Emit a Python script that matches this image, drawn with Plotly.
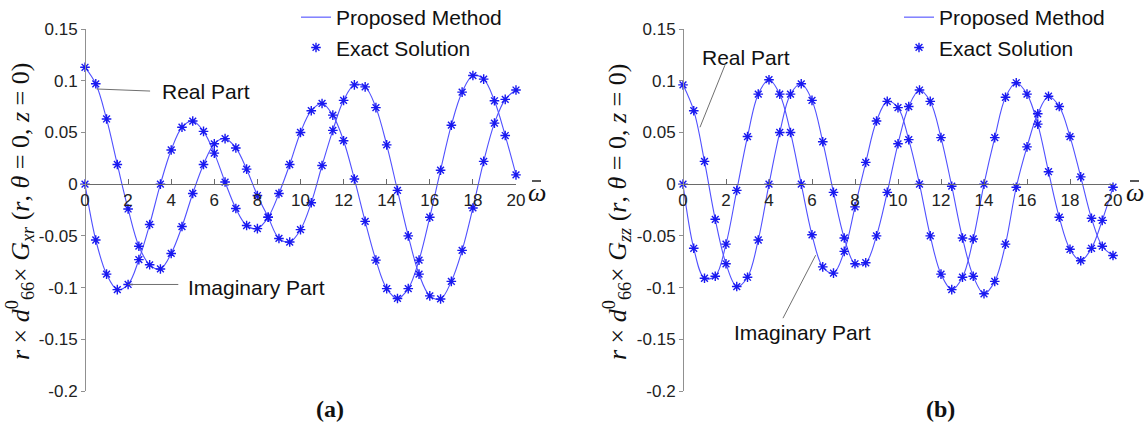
import plotly.graph_objects as go

# ---------------- data ----------------
omega = [i * 0.5 for i in range(41)]  # 0 .. 20 step 0.5

# panel (a)  r*d66*Gxr
a_real = [0.113, 0.097, 0.063, 0.019, -0.024, -0.060, -0.078, -0.082, -0.067, -0.041,
          -0.009, 0.019, 0.039, 0.044, 0.035, 0.0145, -0.011, -0.032, -0.0525, -0.056,
          -0.044, -0.018, 0.018, 0.052, 0.081, 0.096, 0.094, 0.074, 0.038, -0.006,
          -0.050, -0.087, -0.108, -0.111, -0.094, -0.064, -0.023, 0.022, 0.059, 0.082,
          0.091]
a_imag = [0.0, -0.054, -0.087, -0.102, -0.097, -0.073, -0.039, 0.0, 0.033, 0.055,
          0.061, 0.051, 0.030, 0.002, -0.0235, -0.040, -0.043, -0.032, -0.009, 0.019,
          0.050, 0.071, 0.078, 0.0667, 0.042, 0.005, -0.036, -0.0735, -0.101, -0.1105,
          -0.101, -0.0735, -0.032, 0.0135, 0.057, 0.089, 0.105, 0.1015, 0.0806, 0.047,
          0.009]

# panel (b)  r*d66*Gzz
b_real = [0.096, 0.071, 0.022, -0.034, -0.077, -0.099, -0.090, -0.054, 0.0, 0.050,
          0.087, 0.097, 0.081, 0.041, -0.008, -0.052, -0.077, -0.076, -0.050, -0.008,
          0.039, 0.075, 0.091, 0.080, 0.045, -0.002, -0.052, -0.089, -0.106, -0.094,
          -0.058, -0.003, 0.036, 0.068, 0.085, 0.075, 0.046, 0.007, -0.033, -0.060,
          -0.069]
b_imag = [0.0, -0.062, -0.091, -0.089, -0.058, -0.006, 0.046, 0.087, 0.101, 0.087,
          0.050, 0.0, -0.049, -0.080, -0.086, -0.065, -0.022, 0.021, 0.061, 0.080,
          0.074, 0.043, 0.0, -0.050, -0.087, -0.102, -0.090, -0.053, 0.0, 0.045,
          0.084, 0.098, 0.087, 0.058, 0.012, -0.032, -0.063, -0.074, -0.062, -0.035,
          -0.003]

x_ticks = [0, 2, 4, 6, 8, 10, 12, 14, 16, 18, 20]
y_ticks = [-0.2, -0.15, -0.1, -0.05, 0, 0.05, 0.1, 0.15]
y_ticktext = ["-0.2", "-0.15", "-0.1", "-0.05", "0", "0.05", "0.1", "0.15"]

series_names = ["Proposed Method", "Exact Solution"]
panel_labels = ["<b>(a)</b>", "<b>(b)</b>"]
y_titles = [
    "<i>r</i> × <i>d</i><sup>0</sup><sub>66</sub>× <i>G<sub>xr</sub></i> (<i>r</i>, <i>θ</i> = 0, <i>z</i> = 0)",
    "<i>r</i> × <i>d</i><sup>0</sup><sub>66</sub>× <i>G<sub>zz</sub></i> (<i>r</i>, <i>θ</i> = 0, <i>z</i> = 0)",
]

# ---------------- styling / layout ----------------
W, H = 1146, 424
LINE_C = "rgb(80,80,255)"
MARK_C = "rgb(25,25,240)"
AX_C = "#6a6a6a"
SANS = "Liberation Sans, Arial, sans-serif"
SERIF = "Liberation Serif, Times New Roman, serif"

x_domains = [[85 / W, 516 / W], [683 / W, 1113 / W]]
y_domain = [(H - 391) / H, (H - 29) / H]
y_range = [-0.2, 0.15]
x_range = [0, 20]

fig = go.Figure()

panels = [(a_real, a_imag), (b_real, b_imag)]
for p, (re, im) in enumerate(panels):
    xa = "x" if p == 0 else "x2"
    ya = "y" if p == 0 else "y2"
    lg = "legend" if p == 0 else "legend2"
    for k, ys in enumerate([re, im]):
        fig.add_trace(go.Scatter(
            x=omega, y=ys, mode="lines",
            line=dict(color=LINE_C, width=1.1, shape="spline", smoothing=1.0),
            name=series_names[0], showlegend=(k == 0), legend=lg, xaxis=xa, yaxis=ya))
    for k, ys in enumerate([re, im]):
        fig.add_trace(go.Scatter(
            x=omega, y=ys, mode="markers",
            marker=dict(symbol="asterisk-open", size=8, color=MARK_C,
                        line=dict(color=MARK_C, width=1.4)),
            name=series_names[1], showlegend=(k == 0), legend=lg, xaxis=xa, yaxis=ya,
            cliponaxis=False))

zero_pos = y_domain[0] + (0 - y_range[0]) / (y_range[1] - y_range[0]) * (y_domain[1] - y_domain[0])


def xaxis_cfg(dom):
    return dict(domain=dom, range=x_range, anchor="free", position=zero_pos,
                showline=True, linecolor=AX_C, linewidth=1, ticks="inside", ticklen=5,
                tickcolor=AX_C, tickvals=x_ticks, showgrid=False, zeroline=False,
                tickfont=dict(family=SANS, size=17, color="#222"), fixedrange=True)


def yaxis_cfg(xpos):
    return dict(domain=y_domain, range=y_range, anchor="free", position=xpos,
                showline=True, linecolor="#909090", linewidth=1, ticks="outside", ticklen=4,
                tickcolor="#909090", tickvals=y_ticks, ticktext=y_ticktext, showgrid=False,
                zeroline=False, tickfont=dict(family=SANS, size=17, color="#222"),
                fixedrange=True)


legend_common = dict(font=dict(family=SANS, size=21, color="#111"), bgcolor="rgba(0,0,0,0)",
                     xanchor="left", yanchor="top", tracegroupgap=0, itemwidth=30)

fig.update_layout(
    width=W, height=H, margin=dict(l=0, r=0, t=0, b=0, autoexpand=False),
    paper_bgcolor="white", plot_bgcolor="white",
    xaxis=xaxis_cfg(x_domains[0]), yaxis=yaxis_cfg(x_domains[0][0]),
    xaxis2=xaxis_cfg(x_domains[1]), yaxis2=yaxis_cfg(x_domains[1][0]),
    legend=dict(x=296 / W, y=1 + 3 / H, **legend_common),
    legend2=dict(x=899 / W, y=1 + 3 / H, **legend_common),
)

ann = []
# y-axis titles
for p, cx in enumerate([20, 617]):
    ann.append(dict(x=cx / W, y=1 - 212 / H, xref="paper", yref="paper", text=y_titles[p],
                    textangle=-90, showarrow=False,
                    font=dict(family=SERIF, size=26, color="#111"),
                    xanchor="center", yanchor="middle"))
# omega-bar labels
omega_x = [537, 1135]
for p, cx in enumerate(omega_x):
    ann.append(dict(x=cx / W, y=1 - 192 / H, xref="paper", yref="paper", text="<i>ω</i>",
                    showarrow=False, font=dict(family=SERIF, size=26, color="#111"),
                    xanchor="center", yanchor="middle"))
# panel labels
for p, cx in enumerate([330, 940]):
    ann.append(dict(x=cx / W, y=1 - 409 / H, xref="paper", yref="paper", text=panel_labels[p],
                    showarrow=False, font=dict(family=SERIF, size=24, color="#111"),
                    xanchor="center", yanchor="middle"))

lab_font = dict(family=SANS, size=21, color="#111")
ann += [
    dict(x=3.5, y=0.090, xref="x", yref="y", text="Real Part", showarrow=False, font=lab_font,
         xanchor="left", yanchor="middle"),
    dict(x=4.7, y=-0.0996, xref="x", yref="y", text="Imaginary Part", showarrow=False,
         font=lab_font, xanchor="left", yanchor="middle"),
    dict(x=0.8, y=0.122, xref="x2", yref="y2", text="Real Part", showarrow=False,
         font=lab_font, xanchor="left", yanchor="middle"),
    dict(x=2.3, y=-0.143, xref="x2", yref="y2", text="Imaginary Part", showarrow=False,
         font=lab_font, xanchor="left", yanchor="middle"),
]
fig.update_layout(annotations=ann)

ptr = dict(color="#707070", width=1)
shapes = [
    dict(type="line", xref="x", yref="y", x0=0.54, y0=0.092, x1=3.02, y1=0.090, line=ptr),
    dict(type="line", xref="x", yref="y", x0=2.0, y0=-0.097, x1=4.33, y1=-0.097, line=ptr),
    dict(type="line", xref="x2", yref="y2", x0=0.79, y0=0.055, x1=1.95, y1=0.115, line=ptr),
    dict(type="line", xref="x2", yref="y2", x0=6.17, y0=-0.0687, x1=4.65, y1=-0.1296, line=ptr),
]
# macron bars over omega
for cx in omega_x:
    shapes.append(dict(type="line", xref="paper", yref="paper",
                       x0=(cx - 5) / W, x1=(cx + 4) / W, y0=1 - 181 / H, y1=1 - 181 / H,
                       line=dict(color="#111", width=1.4)))
fig.update_layout(shapes=shapes)

fig.write_html("out.html", config=dict(displayModeBar=False),
               post_script="document.body.style.margin='0';document.body.style.overflow='hidden';")
